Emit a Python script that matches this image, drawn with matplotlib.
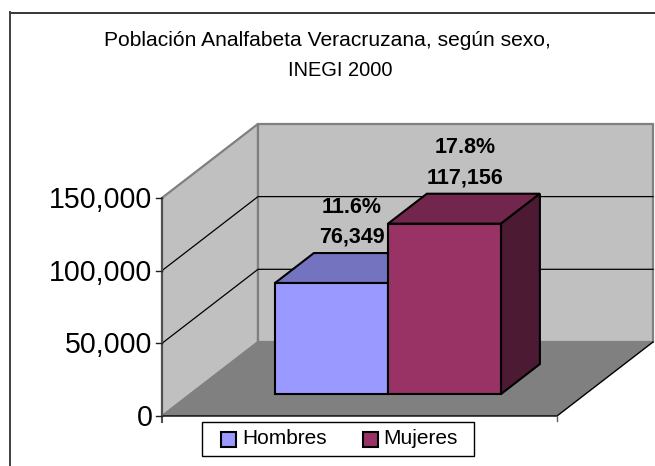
import matplotlib
matplotlib.use("Agg")
import matplotlib.pyplot as plt
from matplotlib.patches import Polygon, Rectangle

plt.rcParams["font.family"] = ["Liberation Sans", "DejaVu Sans"]

CATEGORIES = ["Hombres", "Mujeres"]
VALUES = [76349, 117156]
PERCENTS = ["11.6%", "17.8%"]
VALUE_LABELS = ["76,349", "117,156"]
TICKS = [0, 50000, 100000, 150000]
TICK_LABELS = ["0", "50,000", "100,000", "150,000"]
FRONT_COLORS = ["#9999ff", "#993366"]
TOP_COLORS = ["#7373bf", "#73264d"]
SIDE_COLORS = ["#4d4d80", "#4d1a33"]
TITLE_LINES = ["Población Analfabeta Veracruzana, según sexo,", "INEGI 2000"]

W, H = 655, 466
# oblique box, in image pixels
X0, X1 = 162, 557
Y0 = 416
PX_PER_UNIT = 72.7 / 50000
DEPTH_X, DEPTH_Y = 96, 74
YMAX = 150000
BAR_X = [246.5, 359.5, 472.5]
BAR_D0, BAR_D1 = 0.297, 0.702


def proj(x, value, depth=0.0):
    """Map plot x, data value and depth (0 front, 1 back) to image pixels."""
    return (x + depth * DEPTH_X, Y0 - value * PX_PER_UNIT - depth * DEPTH_Y)


def face(ax, pts, fc, ec="black", lw=1.5, z=2):
    ax.add_patch(Polygon(pts, closed=True, facecolor=fc, edgecolor=ec, linewidth=lw,
                         joinstyle="miter", zorder=z))


fig = plt.figure(figsize=(W / 100, H / 100), dpi=100)
ax = fig.add_axes([0, 0, 1, 1])
ax.set_xlim(0, W)
ax.set_ylim(H, 0)
ax.axis("off")

# chart frame, only the top and left edges are inside the picture
ax.plot([10, W], [12.5, 12.5], color="black", lw=1.1, zorder=1)
ax.plot([10, 10], [12, H], color="#404040", lw=1.4, zorder=1)
for line, x, y, size in zip(TITLE_LINES, [327, 340], [41, 71], [15.15, 14.4]):
    ax.text(x, y, line, fontsize=size, ha="center", va="center", color="black")

# walls and floor
face(ax, [proj(X0, 0), proj(X0, YMAX), proj(X0, YMAX, 1), proj(X0, 0, 1)], "#c0c0c0", "#808080", 1.6, 1)
face(ax, [proj(X0, 0, 1), proj(X0, YMAX, 1), proj(X1, YMAX, 1), proj(X1, 0, 1)], "#c0c0c0", "#808080", 1.6, 1)
ax.add_patch(Polygon([proj(X0, 0), proj(X0, 0, 1), proj(X1, 0, 1), proj(X1, 0)],
                     closed=True, facecolor="#808080", edgecolor="none", zorder=1.2))

# gridlines
for t in TICKS[1:-1]:
    a, b, c = proj(X0, t), proj(X0, t, 1), proj(X1, t, 1)
    ax.plot([a[0], b[0], c[0]], [a[1], b[1], c[1]], color="black", lw=0.9, zorder=1.5)

# floor edges
a, b, c = proj(X0, 0), proj(X1, 0), proj(X1, 0, 1)
ax.plot([a[0], b[0], c[0]], [a[1], b[1], c[1]], color="black", lw=1.0, zorder=1.6)
ax.plot([X1, X1], [Y0, Y0 + 5], color="#606060", lw=1.0, zorder=1.6)

# value axis
ax.plot([X0, X0], [proj(X0, YMAX)[1], Y0 + 6], color="#505050", lw=1.5, zorder=1.7)
for t, lab in zip(TICKS, TICK_LABELS):
    y = proj(X0, t)[1]
    ax.plot([X0 - 6, X0], [y, y], color="#202020", lw=1.0, zorder=1.7)
    ax.text(X0 - 9.5, y + 2, lab, fontsize=20.6, ha="right", va="center", color="black")

# bars
for i, v in enumerate(VALUES):
    xl, xr = BAR_X[i], BAR_X[i + 1]
    z = 3 + i
    face(ax, [proj(xl, v, BAR_D0), proj(xr, v, BAR_D0), proj(xr, v, BAR_D1), proj(xl, v, BAR_D1)],
         TOP_COLORS[i], z=z)
    face(ax, [proj(xr, 0, BAR_D0), proj(xr, v, BAR_D0), proj(xr, v, BAR_D1), proj(xr, 0, BAR_D1)],
         SIDE_COLORS[i], z=z)
    face(ax, [proj(xl, 0, BAR_D0), proj(xr, 0, BAR_D0), proj(xr, v, BAR_D0), proj(xl, v, BAR_D0)],
         FRONT_COLORS[i], z=z)

# data labels
LABEL_X = [352, 465]
for i, v in enumerate(VALUES):
    top = proj(BAR_X[i], v, BAR_D1)[1]
    ax.text(LABEL_X[i], top - 46, PERCENTS[i], fontsize=15.5, fontweight="bold", ha="center",
            va="center", color="black", zorder=6)
    ax.text(LABEL_X[i], top - 16, VALUE_LABELS[i], fontsize=15.5, fontweight="bold", ha="center",
            va="center", color="black", zorder=6)

# legend
ax.add_patch(Rectangle((202, 422), 272, 34, fc="white", ec="black", lw=1.0, zorder=3))
for name, color, sx, tx in zip(CATEGORIES, FRONT_COLORS, [221, 363], [242, 383]):
    ax.add_patch(Rectangle((sx, 432), 14.5, 14.5, fc=color, ec="black", lw=1.5, zorder=4))
    ax.text(tx, 438.5, name, fontsize=15, ha="left", va="center", color="black", zorder=4)

fig.savefig("out.png", dpi=100)
plt.close(fig)
